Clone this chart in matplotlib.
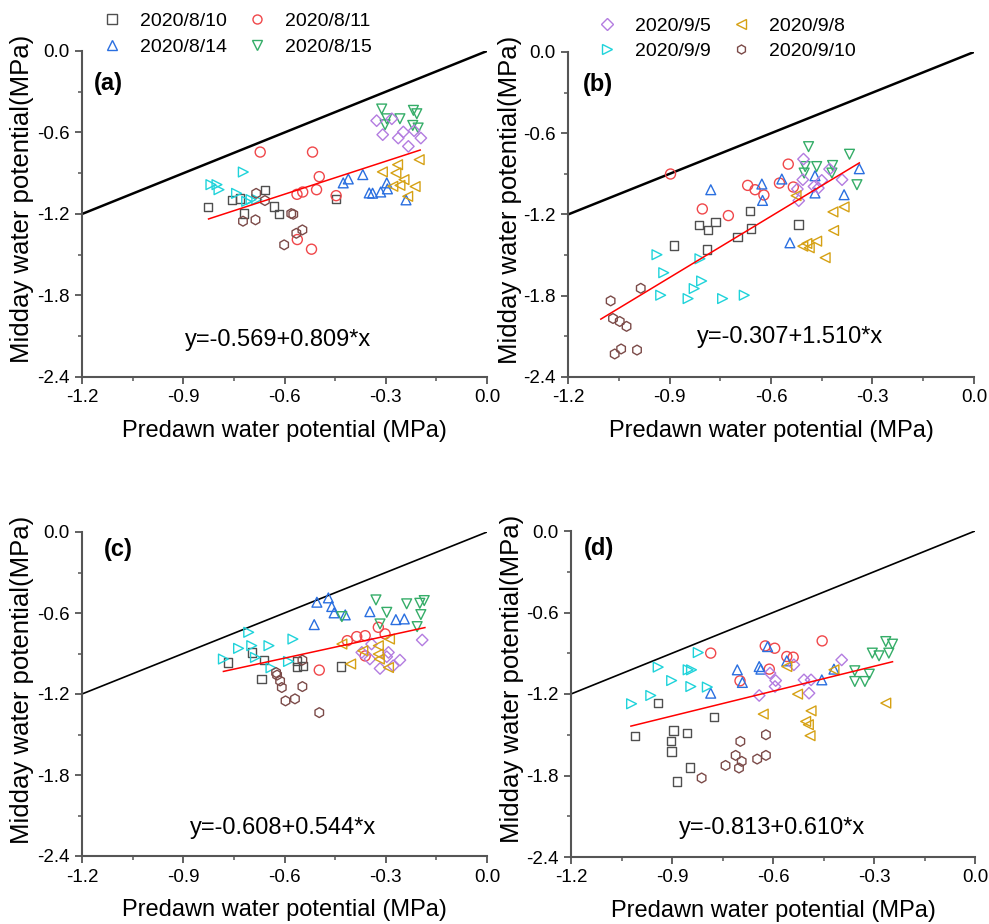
import matplotlib
matplotlib.use("Agg")
import matplotlib.pyplot as plt
from matplotlib.lines import Line2D
from matplotlib.ticker import MultipleLocator, FormatStrFormatter

plt.rcParams['font.family'] = ['Liberation Sans', 'DejaVu Sans']
plt.rcParams['axes.unicode_minus'] = False

# ---------------- data ----------------
SERIES = ["2020/8/10", "2020/8/11", "2020/8/14", "2020/8/15",
          "2020/9/5", "2020/9/8", "2020/9/9", "2020/9/10"]

# Panel (a)
A_SQ = [(-0.827,-1.148),(-0.756,-1.099),(-0.731,-1.087),(-0.720,-1.197),(-0.657,-1.023),(-0.632,-1.146),(-0.616,-1.199),(-0.448,-1.089)]
A_CI = [(-0.672,-0.744),(-0.517,-0.744),(-0.497,-0.925),(-0.505,-1.021),(-0.546,-1.038),(-0.563,-1.055),(-0.447,-1.065),(-0.562,-1.388),(-0.520,-1.459)]
A_UP = [(-0.426,-0.971),(-0.411,-0.942),(-0.368,-0.910),(-0.349,-1.045),(-0.339,-1.047),(-0.315,-1.038),(-0.295,-1.015),(-0.297,-0.971),(-0.240,-1.096)]
A_DN = [(-0.312,-0.427),(-0.218,-0.437),(-0.208,-0.462),(-0.258,-0.499),(-0.297,-0.499),(-0.302,-0.543),(-0.220,-0.548),(-0.204,-0.567)]
A_DI = [(-0.327,-0.513),(-0.282,-0.499),(-0.309,-0.616),(-0.248,-0.596),(-0.263,-0.641),(-0.216,-0.587),(-0.196,-0.641),(-0.233,-0.702)]
A_LT = [(-0.265,-0.837),(-0.201,-0.800),(-0.310,-0.890),(-0.270,-0.898),(-0.246,-0.947),(-0.279,-0.996),(-0.258,-0.989),(-0.213,-0.998),(-0.235,-1.070)]
A_RT = [(-0.818,-0.984),(-0.800,-0.984),(-0.794,-1.021),(-0.722,-0.891),(-0.742,-1.048),(-0.712,-1.107),(-0.699,-1.094),(-0.682,-1.094)]
A_HX = [(-0.684,-1.048),(-0.658,-1.101),(-0.723,-1.253),(-0.686,-1.243),(-0.580,-1.197),(-0.574,-1.202),(-0.565,-1.342),(-0.547,-1.317),(-0.601,-1.427)]

# Panel (b)
B_SQ = [(-0.887,-1.429),(-0.813,-1.279),(-0.787,-1.316),(-0.764,-1.257),(-0.790,-1.458),(-0.699,-1.365),(-0.663,-1.176),(-0.659,-1.304),(-0.519,-1.274)]
B_CI = [(-0.897,-0.901),(-0.803,-1.159),(-0.726,-1.208),(-0.669,-0.985),(-0.647,-1.017),(-0.621,-1.056),(-0.575,-0.968),(-0.549,-0.828),(-0.534,-0.997)]
B_UP = [(-0.778,-1.017),(-0.627,-0.975),(-0.625,-1.096),(-0.568,-0.938),(-0.544,-1.409),(-0.470,-0.914),(-0.470,-1.041),(-0.384,-1.054),(-0.339,-0.862)]
B_DN = [(-0.489,-0.699),(-0.368,-0.755),(-0.499,-0.846),(-0.465,-0.846),(-0.418,-0.838),(-0.420,-0.894),(-0.502,-0.894),(-0.346,-0.980)]
B_DI = [(-0.504,-0.791),(-0.506,-0.943),(-0.522,-1.012),(-0.518,-1.098),(-0.473,-0.993),(-0.450,-0.948),(-0.427,-0.865),(-0.390,-0.943),(-0.460,-1.005)]
B_LT = [(-0.526,-1.061),(-0.417,-1.181),(-0.384,-1.144),(-0.415,-1.318),(-0.506,-1.434),(-0.494,-1.414),(-0.487,-1.446),(-0.465,-1.397),(-0.440,-1.519)]
B_RT = [(-0.937,-1.497),(-0.917,-1.630),(-0.926,-1.796),(-0.845,-1.821),(-0.827,-1.747),(-0.805,-1.691),(-0.810,-1.527),(-0.743,-1.821),(-0.679,-1.796)]
B_HX = [(-1.074,-1.838),(-1.067,-1.968),(-1.047,-1.990),(-1.027,-2.026),(-1.062,-2.230),(-1.043,-2.193),(-0.996,-2.201),(-0.985,-1.745)]

# Panel (c)
C_SQ = [(-0.768,-0.967),(-0.697,-0.892),(-0.660,-0.949),(-0.668,-1.090),(-0.562,-0.954),(-0.562,-0.999),(-0.546,-0.991),(-0.433,-0.996)]
C_CI = [(-0.497,-1.023),(-0.414,-0.805),(-0.386,-0.775),(-0.361,-0.768),(-0.322,-0.706),(-0.302,-0.755),(-0.361,-0.918)]
C_UP = [(-0.504,-0.520),(-0.470,-0.488),(-0.460,-0.552),(-0.453,-0.599),(-0.420,-0.614),(-0.512,-0.686),(-0.347,-0.590),(-0.270,-0.649),(-0.245,-0.644)]
C_DN = [(-0.430,-0.627),(-0.329,-0.503),(-0.297,-0.595),(-0.317,-0.681),(-0.238,-0.532),(-0.199,-0.528),(-0.186,-0.508),(-0.196,-0.612),(-0.207,-0.701)]
C_DI = [(-0.342,-0.830),(-0.371,-0.892),(-0.347,-0.941),(-0.317,-1.011),(-0.297,-0.924),(-0.292,-0.892),(-0.278,-0.991),(-0.258,-0.949),(-0.192,-0.800)]
C_LT = [(-0.430,-0.830),(-0.404,-0.978),(-0.368,-0.880),(-0.322,-0.842),(-0.322,-0.904),(-0.319,-0.941),(-0.289,-0.793),(-0.292,-1.004)]
C_RT = [(-0.781,-0.941),(-0.736,-0.862),(-0.706,-0.743),(-0.697,-0.842),(-0.686,-0.929),(-0.646,-0.842),(-0.640,-1.006),(-0.588,-0.959),(-0.575,-0.793)]
C_HX = [(-0.625,-1.041),(-0.613,-1.103),(-0.608,-1.152),(-0.597,-1.251),(-0.569,-1.236),(-0.547,-1.145),(-0.547,-0.949),(-0.497,-1.338),(-0.622,-1.060)]

# Panel (d)
D_SQ = [(-1.010,-1.507),(-0.941,-1.267),(-0.896,-1.468),(-0.903,-1.544),(-0.901,-1.623),(-0.856,-1.488),(-0.847,-1.740),(-0.886,-1.843),(-0.775,-1.370)]
D_CI = [(-0.785,-0.899),(-0.698,-1.103),(-0.623,-0.846),(-0.595,-0.863),(-0.611,-1.017),(-0.559,-0.924),(-0.540,-0.929),(-0.454,-0.809)]
D_UP = [(-0.785,-1.194),(-0.706,-1.022),(-0.691,-1.115),(-0.641,-0.998),(-0.636,-1.017),(-0.616,-0.851),(-0.559,-0.956),(-0.455,-1.096),(-0.419,-1.017)]
D_DN = [(-0.357,-1.029),(-0.357,-1.108),(-0.327,-1.108),(-0.314,-1.054),(-0.305,-0.899),(-0.285,-0.919),(-0.256,-0.899),(-0.265,-0.814),(-0.245,-0.833)]
D_DI = [(-0.641,-1.211),(-0.609,-1.046),(-0.592,-1.101),(-0.594,-1.145),(-0.538,-0.985),(-0.508,-1.096),(-0.487,-1.096),(-0.493,-1.194),(-0.396,-0.949)]
D_LT = [(-0.559,-0.998),(-0.527,-1.201),(-0.629,-1.348),(-0.487,-1.324),(-0.503,-1.402),(-0.495,-1.426),(-0.490,-1.507),(-0.419,-1.022),(-0.265,-1.267)]
D_RT = [(-1.020,-1.272),(-0.963,-1.211),(-0.941,-1.002),(-0.901,-1.101),(-0.852,-1.022),(-0.842,-1.022),(-0.844,-1.145),(-0.822,-0.895),(-0.795,-1.149)]
D_HX = [(-0.812,-1.818),(-0.741,-1.726),(-0.711,-1.652),(-0.701,-1.745),(-0.693,-1.696),(-0.697,-1.549),(-0.647,-1.679),(-0.621,-1.652),(-0.621,-1.500)]

# regression: intercept, slope, x-range
FIT_A = (-0.569, 0.809, -0.825, -0.198)
FIT_B = (-0.307, 1.510, -1.103, -0.339)
FIT_C = (-0.608, 0.544, -0.781, -0.184)
FIT_D = (-0.813, 0.610, -1.022, -0.245)
EQ = ["y=-0.569+0.809*x", "y=-0.307+1.510*x", "y=-0.608+0.544*x", "y=-0.813+0.610*x"]
PANEL_LABELS = ["(a)", "(b)", "(c)", "(d)"]
X_TICKS = [-1.2, -0.9, -0.6, -0.3, 0.0]
Y_TICKS = [-2.4, -1.8, -1.2, -0.6, 0.0]

# ---------------- style ----------------
MARKERS = ['s', 'o', '^', 'v', 'D', '<', '>', 'h']
COLORS = ['#4f4f4f', '#f0474a', '#2a6fe0', '#35ad68', '#b37ce0', '#d6a114', '#1fd3da', '#7b4a48']
SIZES = [36, 52, 50, 50, 34, 50, 50, 50]

W, H = 989, 924
fig = plt.figure(figsize=(W/100, H/100), dpi=100)

def frac(px_l, px_t, px_r, px_b):
    return [px_l/W, 1 - px_b/H, (px_r-px_l)/W, (px_b-px_t)/H]

axes_px = [(82, 51, 487, 377), (568, 52, 974, 377), (82, 532, 487, 856), (571, 531, 975, 857)]
panel_data = [
    [A_SQ, A_CI, A_UP, A_DN, A_DI, A_LT, A_RT, A_HX],
    [B_SQ, B_CI, B_UP, B_DN, B_DI, B_LT, B_RT, B_HX],
    [C_SQ, C_CI, C_UP, C_DN, C_DI, C_LT, C_RT, C_HX],
    [D_SQ, D_CI, D_UP, D_DN, D_DI, D_LT, D_RT, D_HX],
]
fits = [FIT_A, FIT_B, FIT_C, FIT_D]
one_lw = [1.8, 1.8, 1.2, 1.2]
lab_pos = [(0.064, 0.90), (0.074, 0.90), (0.09, 0.947), (0.07, 0.947)]
eq_pos = [(0.483, 0.113), (0.546, 0.123), (0.496, 0.086), (0.498, 0.089)]
ylab_x = [-0.148, -0.143, -0.148, -0.146]
spine_col = '#555555'

for i in range(4):
    ax = fig.add_axes(frac(*axes_px[i]))
    ax.plot([-1.2, 0.0], [-1.2, 0.0], color='black', lw=one_lw[i], zorder=2)
    for k, pts in enumerate(panel_data[i]):
        xs = [p[0] for p in pts]
        ys = [p[1] for p in pts]
        ax.scatter(xs, ys, marker=MARKERS[k], s=SIZES[k], facecolors='none',
                   edgecolors=COLORS[k], linewidths=1.0, zorder=3)
    b0, b1, x0, x1 = fits[i]
    ax.plot([x0, x1], [b0 + b1*x0, b0 + b1*x1], color='red', lw=1.1, zorder=4)
    ax.set_xlim(-1.2, 0.0)
    ax.set_ylim(-2.4, 0.0)
    ax.set_xticks(X_TICKS)
    ax.set_yticks(Y_TICKS)
    ax.xaxis.set_minor_locator(MultipleLocator(0.15))
    ax.yaxis.set_minor_locator(MultipleLocator(0.3))
    ax.xaxis.set_major_formatter(FormatStrFormatter('%.1f'))
    ax.yaxis.set_major_formatter(FormatStrFormatter('%.1f'))
    for s in ['top', 'right']:
        ax.spines[s].set_visible(False)
    for s in ['left', 'bottom']:
        ax.spines[s].set_color(spine_col)
        ax.spines[s].set_linewidth(1.5)
    ax.tick_params(which='major', direction='out', length=5, width=1.3, color=spine_col,
                   labelsize=13.5, pad=4)
    ax.tick_params(which='minor', direction='out', length=3, width=1.1, color=spine_col)
    ax.set_xlabel("Predawn water potential (MPa)", fontsize=17, va='center')
    ax.xaxis.set_label_coords(0.5, -0.166)
    ax.set_ylabel("Midday water potential(MPa)", fontsize=18.5, va='center')
    ax.yaxis.set_label_coords(ylab_x[i], 0.545)
    ax.text(*lab_pos[i], PANEL_LABELS[i], transform=ax.transAxes, fontsize=17,
            fontweight='bold', ha='center', va='center')
    ax.text(*eq_pos[i], EQ[i], transform=ax.transAxes, fontsize=17,
            ha='center', va='center')

def handle(k):
    return Line2D([], [], linestyle='none', marker=MARKERS[k], markersize=6.5,
                  markerfacecolor='none', markeredgecolor=COLORS[k], markeredgewidth=1.0)

# legend (a): columns [8/10, 8/14], [8/11, 8/15]
order_a = [0, 2, 1, 3]
fig.legend([handle(k) for k in order_a], [SERIES[k] for k in order_a], ncol=2,
           loc='upper left', bbox_to_anchor=(102/W, 1 - 12/H), frameon=False,
           fontsize=14, handlelength=1.0, handletextpad=0.95, columnspacing=1.05,
           labelspacing=0.45, borderpad=0, borderaxespad=0)
order_b = [4, 6, 5, 7]
fig.legend([handle(k) for k in order_b], [SERIES[k] for k in order_b], ncol=2,
           loc='upper left', bbox_to_anchor=(597/W, 1 - 17/H), frameon=False,
           fontsize=14, handlelength=1.0, handletextpad=0.95, columnspacing=1.05,
           labelspacing=0.4, borderpad=0, borderaxespad=0)

fig.savefig("out.png", dpi=100)
